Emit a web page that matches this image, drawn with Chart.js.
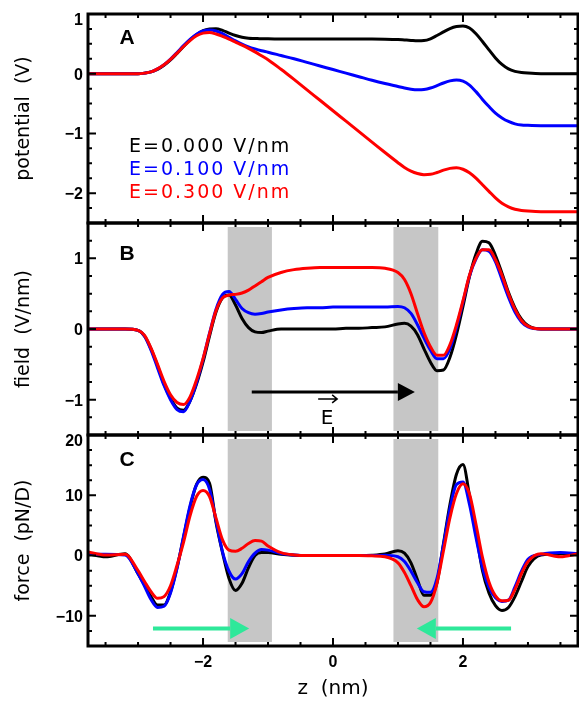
<!DOCTYPE html>
<html>
<head>
<meta charset="utf-8">
<script src="https://cdn.jsdelivr.net/npm/chart.js@4.4.1/dist/chart.umd.min.js"></script>
<style>
  html, body { margin: 0; padding: 0; background: #fff; }
  #wrap { position: relative; width: 579px; height: 705px; overflow: hidden; }
  canvas { position: absolute; left: 0; }
</style>
</head>
<body>
<div id="wrap">
  <canvas id="chartA" width="579" height="230" style="top:0px"></canvas>
  <canvas id="chartB" width="579" height="226" style="top:216px"></canvas>
  <canvas id="chartC" width="579" height="287" style="top:418px"></canvas>
</div>
<script>
// z positions (nm) shared by every curve
const zValues = [-3.77, -3.5, -3.2, -3.0, -2.9, -2.8, -2.7, -2.6, -2.5, -2.4, -2.3, -2.2, -2.1, -2.0, -1.9, -1.8, -1.7, -1.6, -1.5, -1.4, -1.3, -1.2, -1.1, -1.0,
  -0.8, -0.6, -0.4, -0.2, 0, 0.2, 0.4, 0.6, 0.8,
  1.0, 1.1, 1.2, 1.3, 1.4, 1.5, 1.6, 1.7, 1.8, 1.9, 2.0, 2.1, 2.2, 2.3, 2.4, 2.5, 2.6, 2.7, 2.8, 2.9, 3.0, 3.2, 3.5, 3.77];

// A: potential (V)
const potE0 = [0, 0, 0, 0, 0.01, 0.03, 0.07, 0.14, 0.23, 0.34, 0.455, 0.565, 0.655, 0.72, 0.75, 0.755, 0.725, 0.68, 0.64, 0.61, 0.595, 0.59, 0.585, 0.585,
  0.58, 0.58, 0.58, 0.58, 0.58, 0.58, 0.58, 0.58, 0.578,
  0.572, 0.565, 0.558, 0.552, 0.555, 0.585, 0.64, 0.70, 0.755, 0.79, 0.80, 0.765, 0.67, 0.54, 0.40, 0.265, 0.155, 0.08, 0.04, 0.02, 0.01, 0, 0, 0];
const potE1 = [0, 0, 0, 0, 0.01, 0.03, 0.08, 0.15, 0.245, 0.355, 0.47, 0.575, 0.66, 0.715, 0.73, 0.715, 0.67, 0.61, 0.55, 0.495, 0.45, 0.415, 0.385, 0.36,
  0.305, 0.25, 0.19, 0.13, 0.07, 0.01, -0.05, -0.11, -0.165,
  -0.215, -0.24, -0.26, -0.27, -0.265, -0.24, -0.2, -0.155, -0.12, -0.105, -0.125, -0.19, -0.3, -0.43, -0.55, -0.66, -0.74, -0.8, -0.84, -0.86, -0.865, -0.87, -0.87, -0.87];
const potE3 = [0, 0, 0, 0, 0.01, 0.03, 0.08, 0.15, 0.24, 0.345, 0.455, 0.555, 0.635, 0.68, 0.69, 0.665, 0.625, 0.58, 0.53, 0.48, 0.425, 0.365, 0.30, 0.235,
  0.075, -0.095, -0.27, -0.445, -0.62, -0.795, -0.97, -1.145, -1.32,
  -1.49, -1.57, -1.63, -1.67, -1.69, -1.685, -1.655, -1.615, -1.585, -1.575, -1.6, -1.66, -1.75, -1.86, -1.97, -2.08, -2.17, -2.23, -2.27, -2.29, -2.30, -2.31, -2.31, -2.31];

// B: field (V/nm)
const fieldE0 = [0, 0, 0, -0.02, -0.1, -0.28, -0.52, -0.78, -0.98, -1.12, -1.15, -1.02, -0.78, -0.47, -0.1, 0.24, 0.44, 0.48, 0.34, 0.15, 0.02, -0.04, -0.05, -0.03,
  0, 0, 0, 0, 0, 0.01, 0.01, 0.02, 0.03,
  0.07, 0.08, 0.04, -0.08, -0.28, -0.47, -0.59, -0.58, -0.4, -0.08, 0.32, 0.74, 1.06, 1.24, 1.22, 1.04, 0.79, 0.52, 0.3, 0.14, 0.05, 0, 0, 0];
const fieldE1 = [0, 0, 0, -0.02, -0.1, -0.3, -0.55, -0.8, -1.0, -1.14, -1.17, -1.02, -0.76, -0.43, -0.06, 0.28, 0.49, 0.53, 0.42, 0.29, 0.23, 0.21, 0.22, 0.24,
  0.27, 0.29, 0.3, 0.3, 0.31, 0.31, 0.31, 0.31, 0.31,
  0.32, 0.3, 0.22, 0.06, -0.13, -0.3, -0.42, -0.42, -0.28, 0.02, 0.38, 0.75, 0.99, 1.12, 1.1, 0.95, 0.7, 0.45, 0.24, 0.1, 0.03, 0, 0, 0];
const fieldE3 = [0, 0, 0, -0.02, -0.09, -0.27, -0.5, -0.74, -0.93, -1.04, -1.07, -0.96, -0.72, -0.42, -0.07, 0.26, 0.44, 0.48, 0.49, 0.51, 0.55, 0.61, 0.67, 0.73,
  0.8, 0.84, 0.86, 0.87, 0.87, 0.87, 0.87, 0.87, 0.86,
  0.8, 0.7, 0.5, 0.22, -0.05, -0.25, -0.37, -0.37, -0.22, 0.06, 0.4, 0.76, 1.0, 1.12, 1.12, 0.98, 0.76, 0.5, 0.28, 0.12, 0.04, 0, 0, 0];

// C: force (pN/D)
const forceE0 = [0.3, -0.2, 0.3, -3.0, -4.9, -6.8, -8.2, -8.2, -6.0, -2.0, 3.0, 8.0, 11.8, 13.0, 12.0, 5.5, 0.5, -3.8, -5.8, -4.6, -2.0, 0.0, 0.5, 0.5,
  0.2, 0.05, 0, 0, 0, 0, 0, 0.05, 0.25,
  0.8, 0.4, -1.2, -4.0, -6.6, -6.6, -4.5, 2.0, 8.5, 13.5, 15.1, 10.0, 3.8, -2.5, -6.2, -8.3, -9.1, -8.6, -6.8, -4.3, -1.8, 0.1, 0.3, 0.2];
const forceE1 = [0.2, 0.2, 0.1, -3.0, -5.1, -7.3, -8.6, -8.4, -6.2, -2.1, 3.2, 8.3, 11.7, 12.6, 11.0, 5.8, 0.6, -2.6, -3.9, -3.0, -1.0, 0.4, 1.0, 0.9,
  0.35, 0.1, 0, 0, 0, 0, 0, 0, 0.05,
  -0.2, -1.0, -2.6, -4.5, -6.0, -6.1, -3.8, 1.8, 7.8, 11.8, 12.2, 8.5, 3.0, -2.0, -5.3, -7.0, -7.6, -7.4, -5.2, -2.6, -0.6, 0.2, 0.5, 0.3];
const forceE3 = [0.6, 0.1, 0.2, -2.5, -4.3, -6.0, -7.1, -6.8, -5.0, -1.6, 2.2, 6.6, 9.8, 10.8, 9.8, 6.2, 2.6, 0.9, 0.7, 1.2, 2.0, 2.5, 2.4, 1.6,
  0.5, 0.1, 0, 0, 0, 0, 0, -0.05, -0.2,
  -1.2, -2.8, -5.0, -7.3, -8.5, -7.8, -4.6, 0.8, 6.3, 10.3, 11.9, 10.2, 5.2, -0.3, -4.4, -6.7, -7.5, -7.4, -5.6, -3.0, -1.0, 0.3, -0.2, 0.3];

const legendLabels = ["E=0.000 V/nm", "E=0.100 V/nm", "E=0.300 V/nm"];
const xTickValues = [-2, 0, 2];
const potentialTicks = [-2, -1, 0, 1];
const fieldTicks = [-1, 0, 1];
const forceTicks = [-10, 0, 10, 20];

// shaded regions (nm) and arrows [z start, z end, value]
const grayBands = [[-1.62, -0.94], [0.93, 1.62]];
const fieldArrow = [-1.25, 1.26, -0.89];
const forceArrows = [[-2.77, -1.29, -12.1], [2.74, 1.29, -12.1]];

const colors = ["#000000", "#0000ff", "#ff0000"];
const sansFamily = "'Liberation Sans', Arial, sans-serif";
const yTickFont = { family: sansFamily, size: 16, weight: "bold", lineHeight: 0.6 };
const xTickFont = { family: sansFamily, size: 16, weight: "bold" };
const titleFont = { family: "'DejaVu Sans', sans-serif", size: 19 };

function pts(ys) {
  return zValues.map((z, i) => ({ x: z, y: ys[i] }));
}
function minusSign(v) {
  return String(v).replace("-", "\u2212");
}

function drawArrow(ctx, x0, x1, y, color, width, head, half) {
  const dir = x1 > x0 ? 1 : -1;
  ctx.strokeStyle = color;
  ctx.fillStyle = color;
  ctx.lineWidth = width;
  ctx.beginPath();
  ctx.moveTo(x0, y);
  ctx.lineTo(x1 - dir * head, y);
  ctx.stroke();
  ctx.beginPath();
  ctx.moveTo(x1, y);
  ctx.lineTo(x1 - dir * head, y - half);
  ctx.lineTo(x1 - dir * head, y + half);
  ctx.closePath();
  ctx.fill();
}

const panelDecor = {
  id: "panelDecor",
  beforeDatasetsDraw(chart, args, opts) {
    if (!opts.bands) return;
    const { ctx, chartArea: a, scales: { x } } = chart;
    ctx.save();
    ctx.fillStyle = "#c6c6c6";
    grayBands.forEach(function (b) {
      const p0 = x.getPixelForValue(b[0]);
      const p1 = x.getPixelForValue(b[1]);
      ctx.fillRect(p0, a.top + 4, p1 - p0, a.bottom - a.top - 8);
    });
    ctx.restore();
  },
  afterDatasetsDraw(chart, args, opts) {
    const { ctx, chartArea: a, scales: { x, y } } = chart;
    ctx.save();

    // inward ticks on all four sides
    ctx.strokeStyle = "#000";
    ctx.lineWidth = 2;
    ctx.beginPath();
    for (let k = -7; k <= 7; k++) {
      const px = x.getPixelForValue(k * 0.5);
      const len = k % 4 === 0 ? 8 : 4;
      ctx.moveTo(px, a.top); ctx.lineTo(px, a.top + len);
      ctx.moveTo(px, a.bottom); ctx.lineTo(px, a.bottom - len);
    }
    const n = Math.round((opts.yMax - opts.yMin) / opts.yMinor);
    for (let k = 1; k < n; k++) {
      const v = opts.yMin + k * opts.yMinor;
      const r = v / opts.yMajor;
      const len = Math.abs(r - Math.round(r)) < 1e-6 ? 8 : 4;
      const py = y.getPixelForValue(v);
      ctx.moveTo(a.left, py); ctx.lineTo(a.left + len, py);
      ctx.moveTo(a.right, py); ctx.lineTo(a.right - len, py);
    }
    ctx.stroke();

    // frame
    ctx.lineWidth = 3;
    ctx.strokeRect(a.left, a.top, a.right - a.left, a.bottom - a.top);

    // panel letter
    ctx.fillStyle = "#000";
    ctx.font = "bold 21px " + sansFamily;
    ctx.textAlign = "center";
    ctx.textBaseline = "middle";
    ctx.fillText(opts.letter, a.left + 39, a.top + opts.letterDy);

    if (opts.legend) {
      ctx.font = "19px 'DejaVu Sans', sans-serif";
      ctx.textAlign = "left";
      ctx.letterSpacing = "2px";
      legendLabels.forEach(function (t, i) {
        ctx.fillStyle = colors[i];
        ctx.fillText(t, a.left + 41, a.top + 133 + i * 23);
      });
      ctx.letterSpacing = "0px";
    }

    if (opts.fieldArrow) {
      const yy = y.getPixelForValue(fieldArrow[2]);
      drawArrow(ctx, x.getPixelForValue(fieldArrow[0]), x.getPixelForValue(fieldArrow[1]), yy, "#000", 3, 17, 9);
      // E with vector arrow
      const ex = x.getPixelForValue(-0.09);
      ctx.fillStyle = "#000";
      ctx.font = "20px 'DejaVu Sans', sans-serif";
      ctx.textAlign = "center";
      ctx.fillText("E", ex, yy + 27);
      ctx.lineWidth = 1.5;
      ctx.beginPath();
      ctx.moveTo(ex - 9, yy + 7);
      ctx.lineTo(ex + 10, yy + 7);
      ctx.moveTo(ex + 5, yy + 3);
      ctx.lineTo(ex + 10, yy + 7);
      ctx.lineTo(ex + 5, yy + 11);
      ctx.stroke();
    }

    if (opts.forceArrows) {
      forceArrows.forEach(function (f) {
        drawArrow(ctx, x.getPixelForValue(f[0]), x.getPixelForValue(f[1]), y.getPixelForValue(f[2]), "#2ee89a", 4, 19, 10.5);
      });
    }
    ctx.restore();
  }
};

function makePanel(id, cfg) {
  const datasets = cfg.series.map(function (s, i) {
    return {
      data: pts(s),
      borderColor: colors[i],
      borderWidth: 3,
      pointRadius: 0,
      fill: false,
      cubicInterpolationMode: "monotone",
      order: 2 - i
    };
  });
  const xScale = {
    type: "linear",
    min: -3.77,
    max: 3.77,
    display: cfg.showX,
    grid: { display: false, drawTicks: false },
    border: { display: false },
    afterBuildTicks: function (s) { s.ticks = xTickValues.map(function (v) { return { value: v }; }); },
    ticks: { padding: 7, color: "#000", font: xTickFont, callback: minusSign }
  };
  if (cfg.showX) {
    xScale.afterFit = function (s) { s.height = 59; s.paddingLeft = 0; s.paddingRight = 0; };
    xScale.title = { display: true, text: "z  (nm)", color: "#000", font: { family: titleFont.family, size: 20 }, padding: { top: 0, bottom: 4 } };
  }
  return new Chart(document.getElementById(id), {
    type: "line",
    data: { datasets: datasets },
    options: {
      responsive: false,
      animation: false,
      layout: { padding: cfg.padding },
      plugins: {
        legend: { display: false },
        tooltip: { enabled: false },
        panelDecor: cfg.decor
      },
      scales: {
        x: xScale,
        y: {
          min: cfg.yMin,
          max: cfg.yMax,
          grid: { display: false, drawTicks: false },
          border: { display: false },
          afterBuildTicks: function (s) { s.ticks = cfg.yTicks.map(function (v) { return { value: v }; }); },
          afterFit: function (s) { s.width = 88; s.paddingTop = 0; s.paddingBottom = 0; },
          ticks: {
            padding: 5,
            labelOffset: 1.5,
            color: "#000",
            font: yTickFont,
            // a label sitting on the top edge is pushed down inside the panel
            callback: function (v) { return v === cfg.yMax ? ["", minusSign(v)] : minusSign(v); }
          },
          title: { display: true, text: cfg.title, color: "#000", font: titleFont, padding: { top: 13 } }
        }
      }
    },
    plugins: [panelDecor]
  });
}

makePanel("chartA", {
  series: [potE0, potE1, potE3],
  yMin: -2.5, yMax: 1, yTicks: potentialTicks,
  title: "potential  (V)",
  showX: false,
  padding: { top: 14, bottom: 7, left: 0, right: 1 },
  decor: { letter: "A", letterDy: 24, yMin: -2.5, yMax: 1, yMajor: 1, yMinor: 0.25, legend: true }
});

makePanel("chartB", {
  series: [fieldE0, fieldE1, fieldE3],
  yMin: -1.5, yMax: 1.5, yTicks: fieldTicks,
  title: "field  (V/nm)",
  showX: false,
  padding: { top: 7, bottom: 7, left: 0, right: 1 },
  decor: { letter: "B", letterDy: 31, yMin: -1.5, yMax: 1.5, yMajor: 1, yMinor: 0.25, bands: true, fieldArrow: true }
});

makePanel("chartC", {
  series: [forceE0, forceE1, forceE3],
  yMin: -15, yMax: 20, yTicks: forceTicks,
  title: "force  (pN/D)",
  showX: true,
  padding: { top: 17, bottom: 0, left: 0, right: 1 },
  decor: { letter: "C", letterDy: 25, yMin: -15, yMax: 20, yMajor: 10, yMinor: 2.5, bands: true, forceArrows: true }
});
</script>
</body>
</html>
